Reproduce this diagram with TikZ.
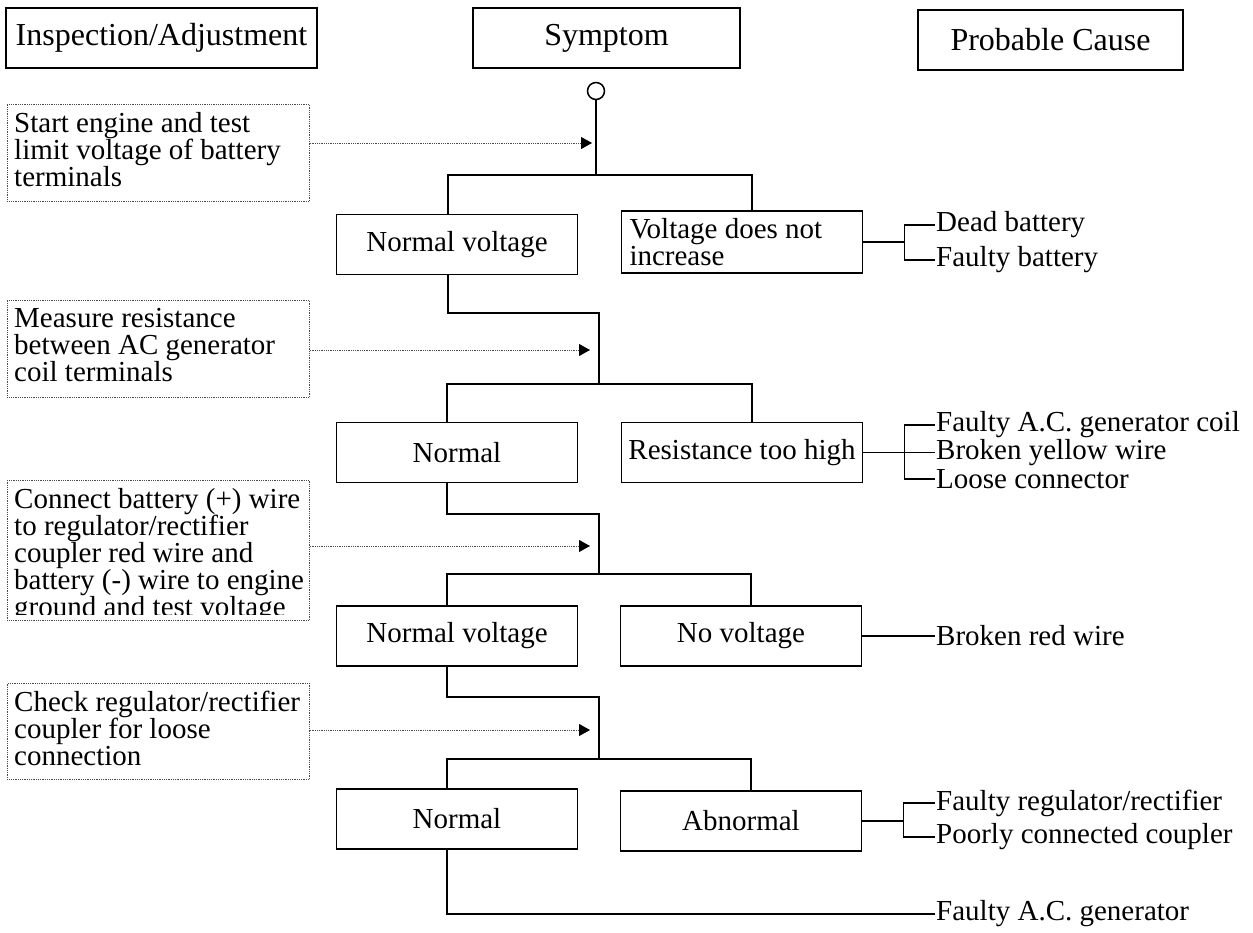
\documentclass[tikz,border=0pt]{standalone}
\usepackage{fontspec}
\setmainfont{Liberation Serif}
\usetikzlibrary{positioning, arrows.meta}

% Define a command to draw a dotted inspection box with its text (name, top, height, text)
\newcommand{\inspectbox}[4]{
    \node [inspbox, minimum height=#3] (#1) at (7,#2) {};
    % Clip the text to the box, so a long text is cut at the bottom
    \begin{scope}
        \clip (#1.north west) rectangle ([xshift=20pt,yshift=6pt]#1.south east);
        \node [insptext] (#1text) at (14,#2+8) {#4};
    \end{scope}
}

\begin{document}
\begin{tikzpicture}[
    x=1pt, y=-1pt,
    font=\fontsize{29pt}{27pt}\selectfont,
    % Styles for the boxes
    head/.style={rectangle, draw, line width=1.6pt, inner sep=0pt, minimum height=60pt, font=\fontsize{32pt}{30pt}\selectfont},
    symbox/.style={rectangle, draw, line width=1.6pt, inner sep=0pt, minimum width=241pt, minimum height=60pt},
    inspbox/.style={rectangle, draw=black!70, densely dotted, line width=0.8pt, inner sep=0pt, minimum width=302pt, anchor=north west},
    insptext/.style={anchor=north west, inner sep=0pt, text width=330pt, align=flush left},
    cause/.style={anchor=west, inner sep=1pt},
    % Styles for the lines
    wire/.style={draw, line width=1.6pt},
    hint/.style={
        draw=black!70, densely dotted, line width=0.8pt,
        -{Triangle[length=11pt, width=12pt, black]}
    }
]
\useasboundingbox (0,0) rectangle (1253,933);

% Column headings
\node [head, minimum width=311pt] (inspect) at (161.5,38) {Inspection/Adjustment};
\node [head, minimum width=267pt] (symptom) at (606.5,38) {Symptom};
\node [head, minimum width=265pt] (cause) at (1050.5,40) {Probable Cause};

\node [circle, draw, line width=1.5pt, inner sep=0pt, minimum size=17pt] (start) at (596,91) {};

% Inspection steps
\inspectbox{insp1}{104}{97pt}{Start engine and test\\ limit voltage of battery\\ terminals}
\inspectbox{insp2}{300}{97pt}{Measure resistance\\ between AC generator\\ coil terminals}
\inspectbox{insp3}{480}{140pt}{Connect battery (+) wire\\ to regulator/rectifier\\ coupler red wire and\\ battery (-) wire to engine\\ ground and test voltage}
\inspectbox{insp4}{683}{96pt}{Check regulator/rectifier\\ coupler for loose\\ connection}

% Symptoms
\node [symbox] (nv1) at (457,244.5) {Normal voltage};
\node [symbox, minimum height=62pt, text width=225pt, align=flush left] (vd) at (742,242) {Voltage does not\\ increase};
\node [symbox] (nr1) at (457,452.5) {Normal};
\node [symbox] (rh) at (742,452.5) {Resistance too high};
\node [symbox] (nv2) at (457,636) {Normal voltage};
\node [symbox] (nov) at (741,636) {No voltage};
\node [symbox] (nr2) at (457,819) {Normal};
\node [symbox] (ab) at (741,821) {Abnormal};

% Probable causes
\node [cause] (dead) at (935,225) {Dead battery};
\node [cause] (fbat) at (935,260) {Faulty battery};
\node [cause] (fcoil) at (935,425) {Faulty A.C. generator coil};
\node [cause] (yellow) at (935,452.5) {Broken yellow wire};
\node [cause] (loose) at (935,479) {Loose connector};
\node [cause] (red) at (935,636) {Broken red wire};
\node [cause] (freg) at (935,803) {Faulty regulator/rectifier};
\node [cause] (poor) at (935,837) {Poorly connected coupler};
\node [cause] (fgen) at (935,914) {Faulty A.C. generator};

% Step 1
\coordinate (tip1) at (592,143);
\coordinate (split1) at (596,175);
\draw [hint] (insp1.east |- tip1) -- (tip1);
\draw [wire] (start) -- (split1);
\draw [wire] ([xshift=-9pt]nv1.north) |- (split1) -| ([xshift=10pt]vd.north);
\coordinate (fork1) at ([xshift=41pt]vd.east);
\draw [wire] (vd.east) -- (fork1);
\draw [wire] (dead.west) -| (fork1) |- (fbat.west);

% Step 2
\coordinate (tip2) at (590,350);
\coordinate (turn2) at (599,313);
\coordinate (split2) at (599,384);
\draw [hint] (insp2.east |- tip2) -- (tip2);
\draw [wire] ([xshift=-9pt]nv1.south) |- (turn2) -- (split2);
\draw [wire] ([xshift=-10pt]nr1.north) |- (split2) -| ([xshift=10pt]rh.north);
\coordinate (fork2) at ([xshift=41pt]rh.east);
\draw [wire] (rh.east) -- (yellow.west);
\draw [wire] (fcoil.west) -| (fork2) |- (loose.west);

% Step 3
\coordinate (tip3) at (590,546);
\coordinate (turn3) at (599,514);
\coordinate (split3) at (599,574);
\draw [hint] (insp3.east |- tip3) -- (tip3);
\draw [wire] ([xshift=-10pt]nr1.south) |- (turn3) -- (split3);
\draw [wire] ([xshift=-10pt]nv2.north) |- (split3) -| ([xshift=10pt]nov.north);
\draw [wire] (nov.east) -- (red.west);

% Step 4
\coordinate (tip4) at (590,730);
\coordinate (turn4) at (599,697);
\coordinate (split4) at (599,759);
\draw [hint] (insp4.east |- tip4) -- (tip4);
\draw [wire] ([xshift=-10pt]nv2.south) |- (turn4) -- (split4);
\draw [wire] ([xshift=-10pt]nr2.north) |- (split4) -| ([xshift=10pt]ab.north);
\coordinate (fork4) at ([xshift=41pt]ab.east);
\draw [wire] (ab.east) -- (fork4);
\draw [wire] (freg.west) -| (fork4) |- (poor.west);
\draw [wire] ([xshift=-10pt]nr2.south) |- (fgen.west);

\end{tikzpicture}
\end{document}
